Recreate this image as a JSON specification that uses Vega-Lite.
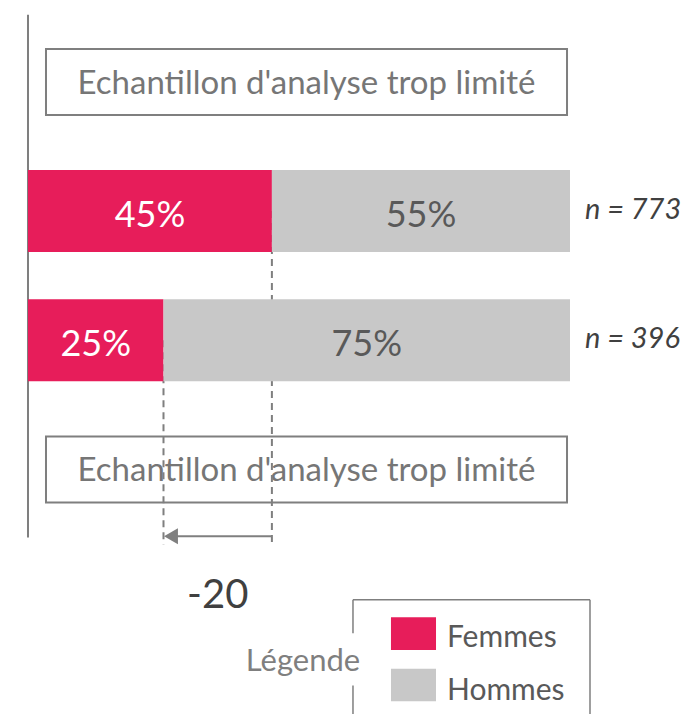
{
  "$schema": "https://vega.github.io/schema/vega-lite/v6.json",
  "width": 692,
  "height": 719,
  "autosize": {"type": "fit", "contains": "padding"},
  "padding": 0,
  "background": "white",
  "config": {"view": {"stroke": null}, "font": "Lato"},
  "datasets": {
    "repartition": [
      {"ligne": 2, "sexe": "Femmes", "part": 0.45},
      {"ligne": 2, "sexe": "Hommes", "part": 0.55},
      {"ligne": 3, "sexe": "Femmes", "part": 0.25},
      {"ligne": 3, "sexe": "Hommes", "part": 0.75}
    ],
    "effectifs": [{"ligne": 2, "n": 773}, {"ligne": 3, "n": 396}],
    "echantillons": [
      {"ligne": 1, "libelle": "Echantillon d'analyse trop limité"},
      {"ligne": 4, "libelle": "Echantillon d'analyse trop limité"}
    ],
    "ecart": [{"ecart": "-20"}],
    "vide": [{}]
  },
  "layer": [
    {
      "data": {"name": "vide"},
      "mark": {"type": "rule", "color": "#7f7f7f", "strokeWidth": 2},
      "encoding": {
        "x": {"datum": 0, "type": "quantitative", "axis": null, "scale": {"domain": [-0.05166, 1.2251], "nice": false, "zero": false}},
        "y": {"datum": 0.481, "type": "quantitative", "axis": null, "scale": {"domain": [0.4046, 5.893], "reverse": true, "nice": false, "zero": false}},
        "y2": {"datum": 4.527}
      }
    },
    {
      "data": {"name": "echantillons"},
      "mark": {"type": "bar", "orient": "horizontal", "fill": "white", "stroke": "#7f7f7f", "strokeWidth": 2, "size": 66},
      "encoding": {
        "x": {"datum": 0.0332, "type": "quantitative", "axis": null},
        "x2": {"datum": 0.9945},
        "y": {"field": "ligne", "type": "quantitative", "axis": null}
      }
    },
    {
      "data": {"name": "echantillons"},
      "mark": {"type": "text", "fontSize": 33, "color": "#767676", "baseline": "alphabetic", "dy": 12, "align": "center"},
      "encoding": {
        "x": {"datum": 0.5138, "type": "quantitative", "axis": null},
        "y": {"field": "ligne", "type": "quantitative", "axis": null},
        "text": {"field": "libelle"}
      }
    },
    {
      "data": {"name": "repartition"},
      "transform": [{"filter": {"field": "sexe", "equal": "Femmes"}}],
      "mark": {"type": "rule", "color": "#7f7f7f", "strokeWidth": 2, "strokeDash": [7, 5]},
      "encoding": {
        "x": {"field": "part", "type": "quantitative", "axis": null},
        "y": {"field": "ligne", "type": "quantitative", "axis": null},
        "y2": {"datum": 4.58}
      }
    },
    {
      "data": {"name": "repartition"},
      "mark": {"type": "bar", "orient": "horizontal", "size": 82},
      "encoding": {
        "x": {"field": "part", "type": "quantitative", "stack": "zero", "axis": null},
        "y": {"field": "ligne", "type": "quantitative", "axis": null},
        "color": {"field": "sexe", "type": "nominal", "legend": null, "scale": {"domain": ["Femmes", "Hommes"], "range": ["#E71D5A", "#C8C8C8"]}},
        "order": {"field": "sexe"}
      }
    },
    {
      "data": {"name": "repartition"},
      "mark": {"type": "text", "fontSize": 36, "baseline": "alphabetic", "dy": 16, "align": "center"},
      "encoding": {
        "x": {"field": "part", "type": "quantitative", "stack": "zero", "bandPosition": 0.5, "axis": null},
        "y": {"field": "ligne", "type": "quantitative", "axis": null},
        "detail": {"field": "sexe"},
        "order": {"field": "sexe"},
        "text": {"field": "part", "type": "quantitative", "format": ".0%"},
        "color": {"condition": {"test": "datum.sexe === 'Femmes'", "value": "white"}, "value": "#595959"}
      }
    },
    {
      "data": {"name": "effectifs"},
      "mark": {"type": "text", "fontSize": 29, "fontStyle": "italic", "color": "#404040", "align": "left", "baseline": "alphabetic", "dy": 8, "text": {"expr": "'n = ' + datum.n"}},
      "encoding": {
        "x": {"datum": 1.0277, "type": "quantitative", "axis": null},
        "y": {"field": "ligne", "type": "quantitative", "axis": null}
      }
    },
    {
      "data": {"name": "vide"},
      "mark": {"type": "rule", "color": "#7f7f7f", "strokeWidth": 2},
      "encoding": {
        "x": {"datum": 0.449, "type": "quantitative", "axis": null},
        "x2": {"datum": 0.2712},
        "y": {"datum": 4.517, "type": "quantitative", "axis": null}
      }
    },
    {
      "data": {"name": "vide"},
      "mark": {"type": "point", "shape": "triangle-left", "filled": true, "size": 256, "color": "#7f7f7f", "opacity": 1},
      "encoding": {
        "x": {"datum": 0.2638, "type": "quantitative", "axis": null},
        "y": {"datum": 4.517, "type": "quantitative", "axis": null}
      }
    },
    {
      "data": {"name": "ecart"},
      "mark": {"type": "text", "fontSize": 40, "color": "#404040", "align": "center", "baseline": "alphabetic"},
      "encoding": {
        "x": {"datum": 0.35, "type": "quantitative", "axis": null},
        "y": {"datum": 5.076, "type": "quantitative", "axis": null},
        "text": {"field": "ecart", "type": "nominal"}
      }
    },
    {
      "data": {"name": "vide"},
      "mark": {"type": "rule", "color": "#7f7f7f", "strokeWidth": 1.5},
      "encoding": {
        "x": {"datum": 0.5996, "type": "quantitative", "axis": null},
        "x2": {"datum": 1.0369},
        "y": {"datum": 5.008, "type": "quantitative", "axis": null}
      }
    },
    {
      "data": {"name": "vide"},
      "mark": {"type": "rule", "color": "#7f7f7f", "strokeWidth": 1.5},
      "encoding": {
        "x": {"datum": 1.0369, "type": "quantitative", "axis": null},
        "y": {"datum": 5.008, "type": "quantitative", "axis": null},
        "y2": {"datum": 5.893}
      }
    },
    {
      "data": {"name": "vide"},
      "mark": {"type": "rule", "color": "#7f7f7f", "strokeWidth": 1.5},
      "encoding": {
        "x": {"datum": 0.5996, "type": "quantitative", "axis": null},
        "y": {"datum": 5.008, "type": "quantitative", "axis": null},
        "y2": {"datum": 5.267}
      }
    },
    {
      "data": {"name": "vide"},
      "mark": {"type": "rule", "color": "#7f7f7f", "strokeWidth": 1.5},
      "encoding": {
        "x": {"datum": 0.5996, "type": "quantitative", "axis": null},
        "y": {"datum": 5.672, "type": "quantitative", "axis": null},
        "y2": {"datum": 5.893}
      }
    },
    {
      "data": {"name": "vide"},
      "mark": {"type": "rect"},
      "encoding": {
        "x": {"datum": 0.6697, "type": "quantitative", "axis": null},
        "x2": {"datum": 0.7528},
        "y": {"datum": 5.145, "type": "quantitative", "axis": null},
        "y2": {"datum": 5.397},
        "color": {"datum": "Femmes", "type": "nominal", "legend": null}
      }
    },
    {
      "data": {"name": "vide"},
      "mark": {"type": "rect"},
      "encoding": {
        "x": {"datum": 0.6697, "type": "quantitative", "axis": null},
        "x2": {"datum": 0.7528},
        "y": {"datum": 5.542, "type": "quantitative", "axis": null},
        "y2": {"datum": 5.794},
        "color": {"datum": "Hommes", "type": "nominal", "legend": null}
      }
    },
    {
      "data": {"name": "vide"},
      "mark": {"type": "text", "fontSize": 30, "color": "#595959", "align": "left", "baseline": "alphabetic", "text": "Femmes"},
      "encoding": {
        "x": {"datum": 0.773, "type": "quantitative", "axis": null},
        "y": {"datum": 5.374, "type": "quantitative", "axis": null}
      }
    },
    {
      "data": {"name": "vide"},
      "mark": {"type": "text", "fontSize": 30, "color": "#595959", "align": "left", "baseline": "alphabetic", "text": "Hommes"},
      "encoding": {
        "x": {"datum": 0.773, "type": "quantitative", "axis": null},
        "y": {"datum": 5.786, "type": "quantitative", "axis": null}
      }
    },
    {
      "data": {"name": "vide"},
      "mark": {"type": "text", "fontSize": 31, "color": "#7f7f7f", "align": "center", "baseline": "alphabetic", "text": "Légende"},
      "encoding": {
        "x": {"datum": 0.5074, "type": "quantitative", "axis": null},
        "y": {"datum": 5.557, "type": "quantitative", "axis": null}
      }
    }
  ]
}
